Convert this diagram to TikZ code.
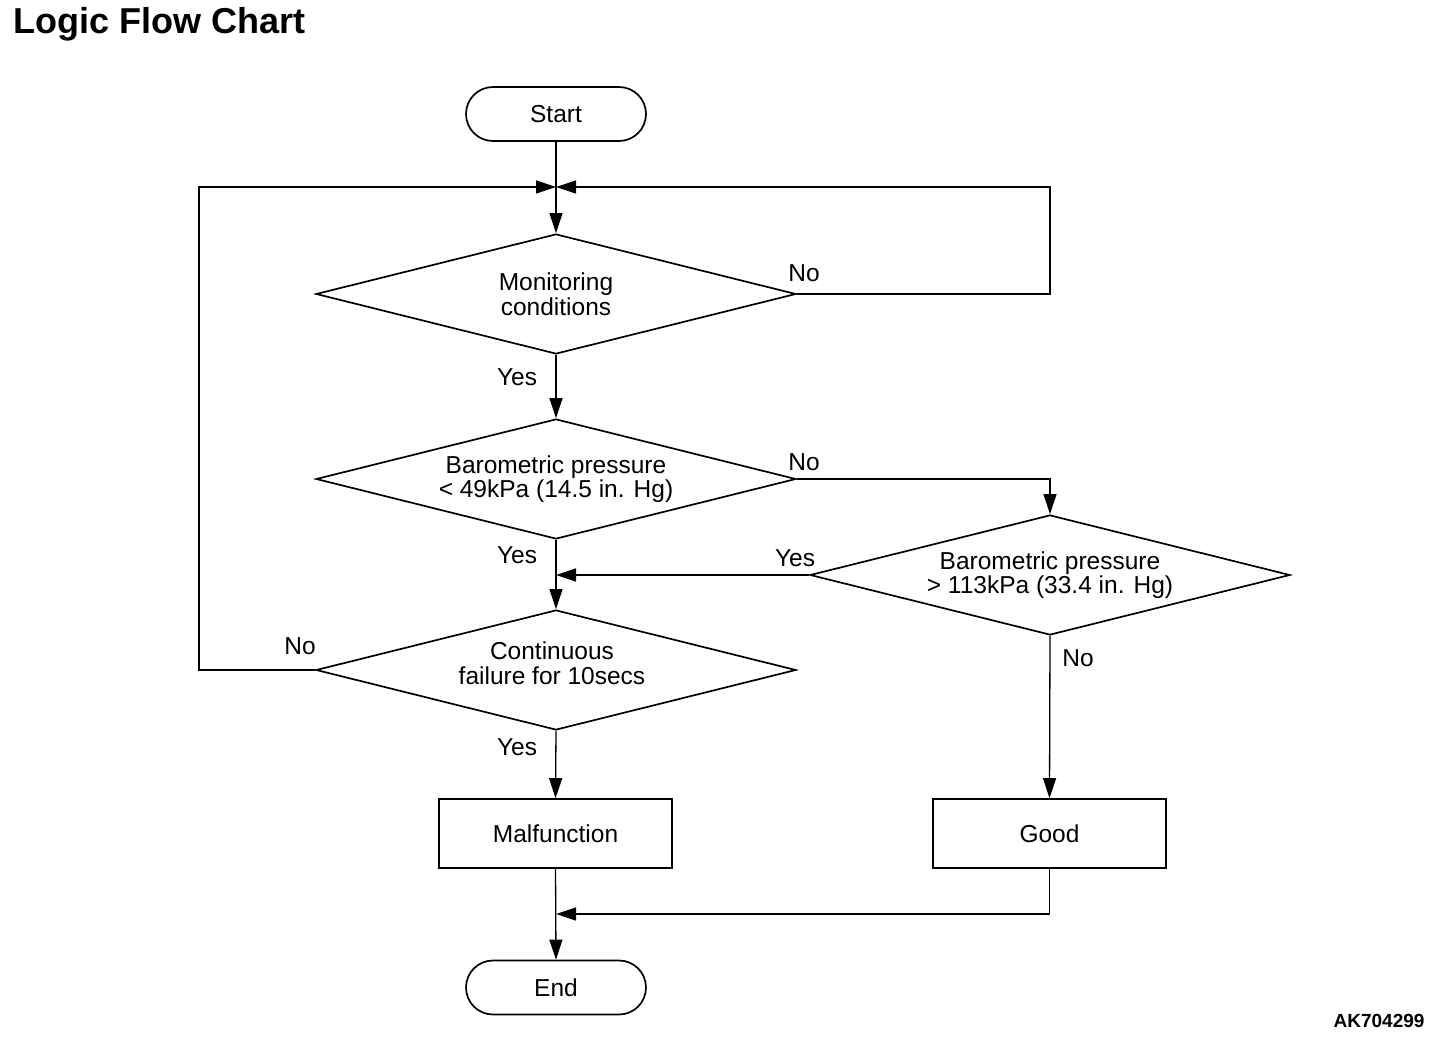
\documentclass[tikz,border=0pt]{standalone}
\usepackage{fontspec}
\setmainfont{Liberation Sans}
\usetikzlibrary{shapes.geometric,arrows.meta}
\begin{document}
\begin{tikzpicture}[x=1pt,y=-1pt,
  txt/.style={font=\fontsize{24.5}{24.5}\selectfont, align=center},
  term/.style={txt, draw, line width=1.7pt, rounded corners=27pt, minimum width=180pt, minimum height=54pt, inner sep=0pt},
  dec/.style={txt, draw, shape=diamond, line width=1.7pt, minimum width=480pt, minimum height=120pt, inner sep=0pt, aspect=4},
  proc/.style={txt, draw, line width=1.7pt, minimum width=233pt, minimum height=69pt, inner sep=0pt},
  lbl/.style={font=\fontsize{24.5}{24.5}\selectfont},
  conn/.style={line width=1.3pt},
  arr/.style={conn, -{Triangle[length=20pt,width=13pt]}}
]
\useasboundingbox (0,0) rectangle (1456,1038);
\node[anchor=west, font=\fontsize{36}{37}\selectfont\bfseries] (title) at (10,24) {Logic Flow Chart};
\node[anchor=east, font=\fontsize{19}{20}\selectfont\bfseries] (code) at (1428,1021) {AK704299};

\node[term] (start) at (556,114) {Start};
\node[dec] (d1) at (556,294) {Monitoring\\conditions};
\node[dec] (d2) at (556,479) {Barometric pressure\\\textless{} 49kPa (14.5 in. Hg)};
\node[dec] (d3) at (1050,575) {Barometric pressure\\\textgreater{} 113kPa (33.4 in. Hg)};
\node[dec] (d4) at (556,670) {};
\node[txt] (d4t) at (552,663) {Continuous\\failure for 10secs};
\node[proc] (malf) at (555.5,833.5) {Malfunction};
\node[proc] (good) at (1049.5,833.5) {Good};
\node[term] (end) at (556,987.5) {End};

\coordinate (j1) at (556,187);
\coordinate (j2) at (556,575);
\coordinate (j3) at (556,914);
\coordinate (lc) at (199,187);
\coordinate (rc) at (1050,187);

\draw[arr] (start.south) -- (d1.north);
\draw[arr] (d4.west) -| (lc) -- (j1);
\draw[arr] (d1.east) -| (rc) -- (j1);
\draw[arr] (d1.south) -- (d2.north);
\draw[arr] (d2.south) -- (d4.north);
\draw[arr] (d2.east) -| (d3.north);
\draw[arr] (d3.west) -- (j2);
\draw[arr] (d3.south) -- (good.north);
\draw[arr] (d4.south) -- (malf.north);
\draw[arr] (malf.south) -- (end.north);
\draw[arr] (good.south) |- (j3);

\node[lbl] (n1) at (804,273) {No};
\node[lbl] (y1) at (517,377) {Yes};
\node[lbl] (n2) at (804,462) {No};
\node[lbl] (y2) at (517,555) {Yes};
\node[lbl] (y3) at (795,558) {Yes};
\node[lbl] (n4) at (300,646) {No};
\node[lbl] (y4) at (517,747) {Yes};
\node[lbl] (n3) at (1078,658) {No};
\end{tikzpicture}
\end{document}
